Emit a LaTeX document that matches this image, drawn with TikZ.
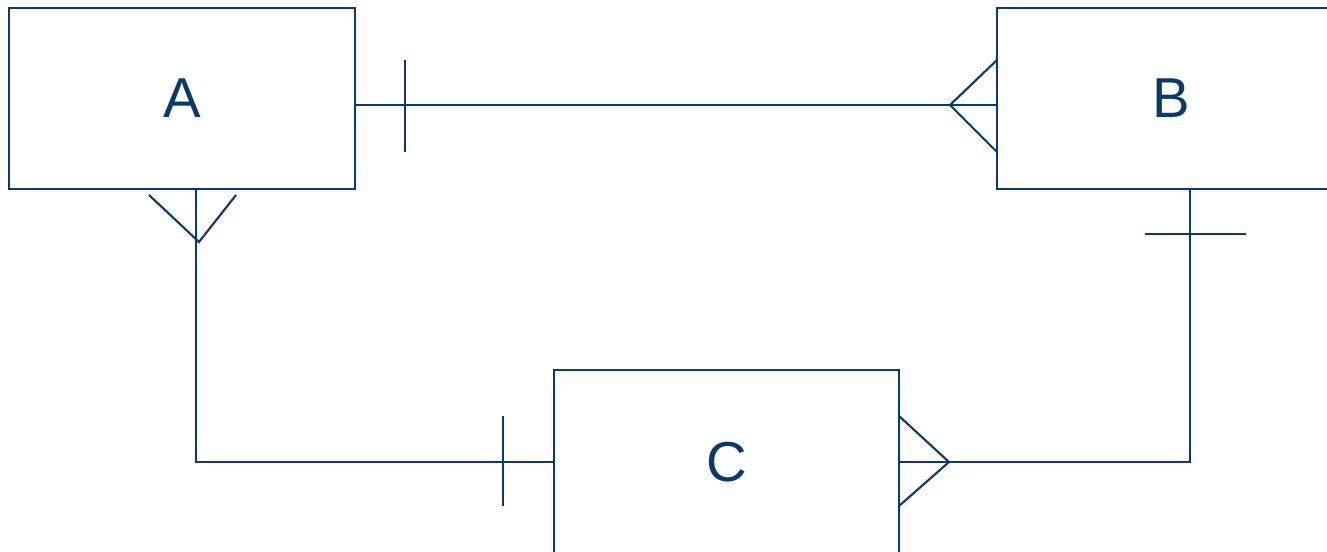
\documentclass[tikz,border=0pt]{standalone}
\usepackage{fontspec}
\setmainfont{Liberation Sans}
\usepackage{tikz}
\definecolor{erblue}{RGB}{10,58,108}
\tikzstyle{entity}=[draw=erblue,line width=0.6pt,minimum width=3.46cm,minimum height=1.81cm,inner sep=0pt,text=erblue,font=\fontsize{16}{19}\selectfont]
\tikzstyle{link}=[draw=erblue,line width=0.6pt]

\begin{document}
\begin{tikzpicture}[x=0.01cm,y=-0.01cm]
    \useasboundingbox (0,0) rectangle (1327,551);
    \node[entity] (A) at (182,98.5) {A};
    \node[entity,minimum width=3.48cm] (B) at (1171,98.5) {B};
    \node[entity,minimum width=3.45cm,minimum height=1.84cm] (C) at (726.5,462) {C};
    \coordinate (ab) at (676,105);
    \coordinate (ac) at (196,462);
    \coordinate (bc) at (1190,462);
%   A -- B
    \draw[link] (A.east |- ab) -- (B.west |- ab);
    \draw[link] (405,60) -- (405,152);
    \draw[link] (997,60) -- (950,105) -- (997,152);
%   A -- C
    \draw[link] (A.south -| ac) -- (ac) -- (C.west);
    \draw[link] (149,195) -- (199,242) -- (236,195);
    \draw[link] (503,416) -- (503,506);
%   B -- C
    \draw[link] (B.south -| bc) -- (bc) -- (C.east);
    \draw[link] (1145,234) -- (1246,234);
    \draw[link] (899,416) -- (949,462) -- (899,506);
\end{tikzpicture}
\end{document}
